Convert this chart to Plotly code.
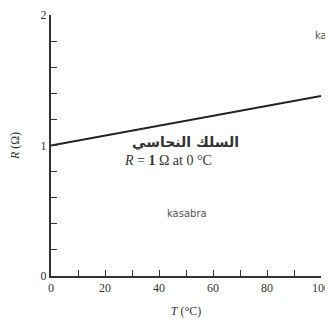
import plotly.graph_objects as go

T = [0, 100]
R = [1.0, 1.38]
x_tick_vals = [0, 10, 20, 30, 40, 50, 60, 70, 80, 90, 100]
x_tick_text = ["0", "", "20", "", "40", "", "60", "", "80", "", "100"]
y_tick_vals = [0, 0.2, 0.4, 0.6, 0.8, 1.0, 1.2, 1.4, 1.6, 1.8, 2.0]
y_tick_text = ["0", "", "", "", "", "1", "", "", "", "", "2"]

font_family = "Liberation Serif"

fig = go.Figure()
fig.add_trace(go.Scatter(x=T, y=R, mode="lines",
                         line=dict(color="#222222", width=2), showlegend=False))

fig.update_layout(
    width=333, height=320,
    margin=dict(l=43, r=20, t=7, b=52),
    paper_bgcolor="white", plot_bgcolor="white",
    font=dict(family=font_family, color="#333333", size=11),
    xaxis=dict(range=[0, 100], tickvals=x_tick_vals, ticktext=x_tick_text,
               ticks="inside", ticklen=6, tickwidth=1.2, tickcolor="#333333",
               showline=True, linecolor="#333333", linewidth=2,
               showgrid=False, zeroline=False, automargin=False,
               tickfont=dict(size=12, family=font_family),
               title=dict(text="<i>T</i> (°C)", standoff=12,
                          font=dict(size=12, family=font_family))),
    yaxis=dict(range=[0, 2], tickvals=y_tick_vals, ticktext=y_tick_text,
               ticks="inside", ticklen=6, tickwidth=1.2, tickcolor="#333333",
               showline=True, linecolor="#333333", linewidth=2,
               showgrid=False, zeroline=False, automargin=False,
               tickfont=dict(size=12, family=font_family),
               title=dict(text="<i>R</i> (Ω)", standoff=18,
                          font=dict(size=12, family=font_family))),
)

fig.add_annotation(x=0.293, y=0.51, xref="paper", yref="paper",
                   text="<b>السلك النحاسي</b>", showarrow=False,
                   xanchor="left", yanchor="middle",
                   font=dict(size=14, family="DejaVu Sans", color="#333333"))
fig.add_annotation(x=0.263, y=0.444, xref="paper", yref="paper",
                   text="<i>R</i> = <b>1</b> Ω at 0 °C", showarrow=False,
                   xanchor="left", yanchor="middle",
                   font=dict(size=14, family=font_family, color="#333333"))
fig.add_annotation(x=0.504, y=0.241, xref="paper", yref="paper",
                   text="kasabra", showarrow=False, yanchor="middle",
                   font=dict(size=10, family="DejaVu Sans", color="#555555"))
fig.add_annotation(x=0.97, y=0.923, xref="paper", yref="paper",
                   text="kas", showarrow=False, xanchor="left", yanchor="middle",
                   font=dict(size=10, family="DejaVu Sans", color="#555555"))

fig.write_html("out.html")
